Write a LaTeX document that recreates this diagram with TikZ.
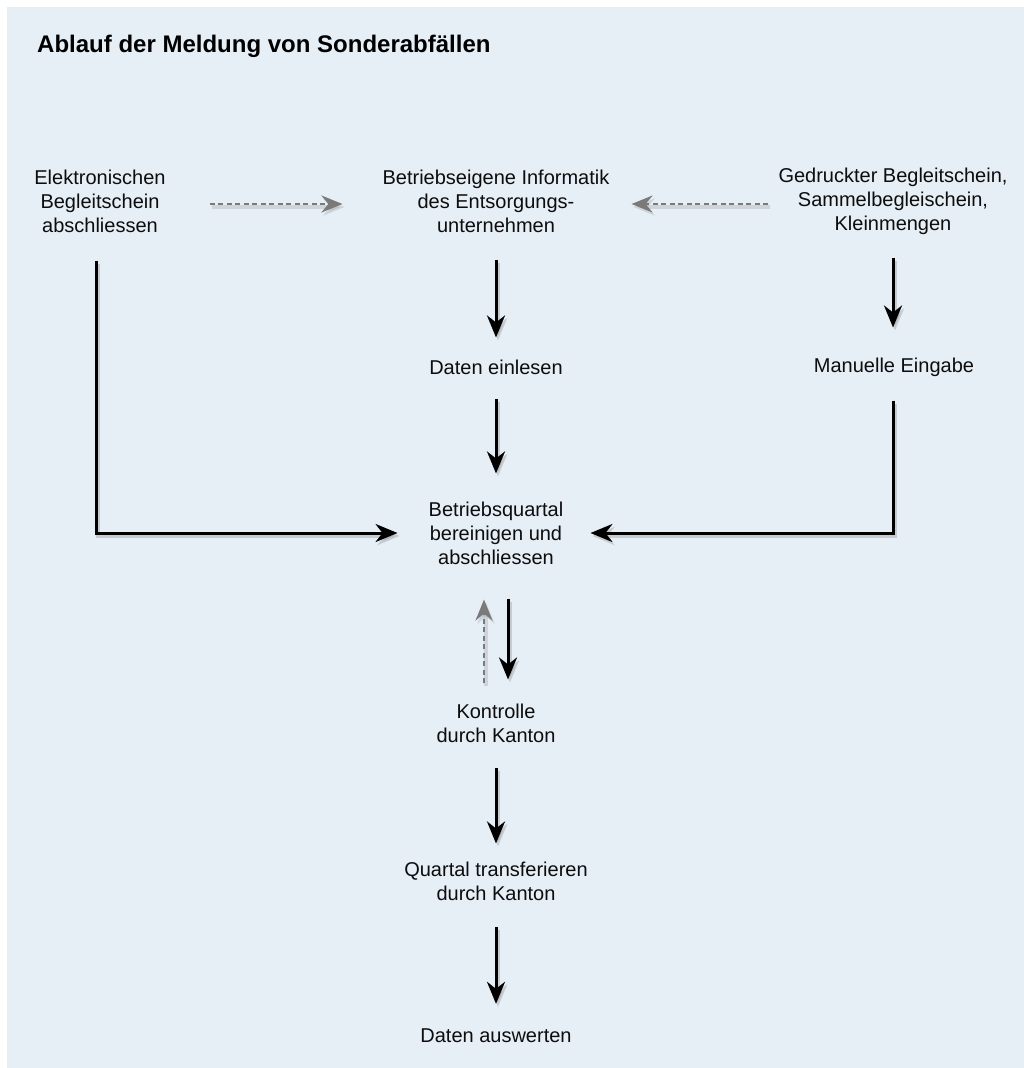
\documentclass[tikz,border=0pt]{standalone}
\usepackage{fontspec}
\setmainfont{Liberation Sans}
\usetikzlibrary{arrows.meta}
\definecolor{panel}{HTML}{E6EEF6}
\definecolor{dashgray}{HTML}{7A7A7A}
\begin{document}
\begin{tikzpicture}[x=1pt,y=-1pt,
  lbl/.style={inner sep=0pt, align=center, font=\fontsize{20}{24}\selectfont, text=black!95},
  ttl/.style={inner sep=0pt, anchor=west, font=\fontsize{24}{28}\selectfont\bfseries},
  flow/.style={line width=3pt, draw=black, -{Stealth[length=22pt,width=18pt,inset=7pt]},
    preaction={draw=black!45, opacity=0.35, line width=4.5pt, transform canvas={shift={(2pt,-3pt)}}}},
  dflow/.style={line width=2.6pt, draw=dashgray, dash pattern=on 5pt off 3.5pt,
    -{Stealth[length=21pt,width=17pt,inset=7pt]},
    preaction={draw=black!40, opacity=0.3, line width=3.5pt, transform canvas={shift={(2pt,-3pt)}}}}]
\useasboundingbox (0,0) rectangle (1024,1068);
\fill[white] (0,0) rectangle (1024,1068);
\fill[panel] (7,7) rectangle (1024,1068);
\node[ttl] (title) at (37,46) {Ablauf der Meldung von Sonderabfällen};
\node[lbl] (e)  at (100,201) {Elektronischen\\Begleitschein\\abschliessen};
\node[lbl] (bi) at (496,201) {Betriebseigene Informatik\\des Entsorgungs-\\unternehmen};
\node[lbl] (g)  at (893,201) {Gedruckter Begleitschein,\\Sammelbegleischein,\\Kleinmengen};
\node[lbl] (de) at (496,367) {Daten einlesen};
\node[lbl] (me) at (894,367) {Manuelle Eingabe};
\node[lbl] (bq) at (496,533) {Betriebsquartal\\bereinigen und\\abschliessen};
\node[lbl] (ko) at (496,723) {Kontrolle\\durch Kanton};
\node[lbl] (qt) at (496,881) {Quartal transferieren\\durch Kanton};
\node[lbl] (da) at (496,1036) {Daten auswerten};
% dashed top arrows
\draw[dflow, shorten <=44pt, shorten >=40pt] ([yshift=-3pt]e.east) -- ([yshift=-3pt]bi.west);
\draw[dflow, shorten <=10pt, shorten >=22pt] ([yshift=-3pt]g.west) -- ([yshift=-3pt]bi.east);
% vertical chain
\draw[flow, shorten <=27pt, shorten >=22pt] (bi.south) -- (de.north);
\draw[flow, shorten <=23pt, shorten >=30pt] (g.south) -- (g.south |- me.north);
\draw[flow, shorten <=24pt, shorten >=28pt] (de.south) -- (bq.north);
\draw[flow, shorten <=28pt, shorten >=31pt] ([xshift=-4pt]e.south) |- (bq.west);
\draw[flow, shorten <=24pt, shorten >=27pt] (me.south -| g.south) |- (bq.east);
\draw[flow, shorten <=34pt, shorten >=24pt] ([xshift=12pt]bq.south) -- ([xshift=12pt]ko.north);
\draw[dflow, shorten <=20pt, shorten >=35pt] ([xshift=-12pt]ko.north) -- ([xshift=-12pt]bq.south);
\draw[flow, shorten <=25pt, shorten >=18pt] (ko.south) -- (qt.north);
\draw[flow, shorten <=26pt, shorten >=25pt] (qt.south) -- (da.north);
\end{tikzpicture}
\end{document}
